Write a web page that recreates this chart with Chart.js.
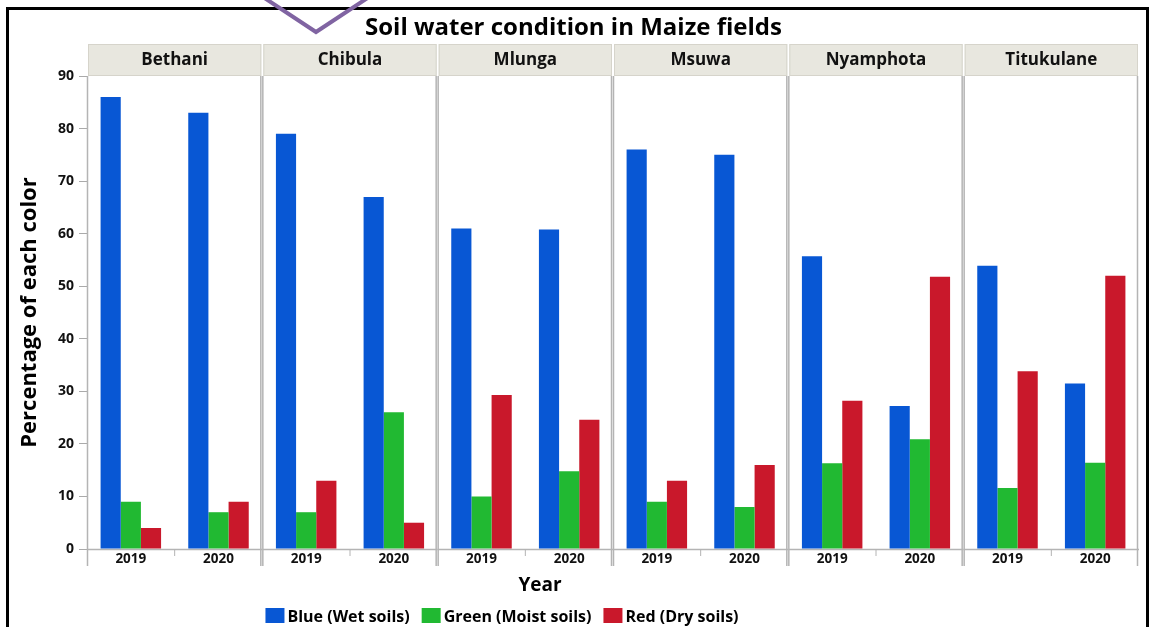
<!DOCTYPE html>
<html>
<head>
<meta charset="utf-8">
<script src="https://cdn.jsdelivr.net/npm/chart.js@4/dist/chart.umd.min.js"></script>
<style>
  html, body { margin: 0; padding: 0; background: #fff; }
  #wrap { position: relative; width: 1152px; height: 627px; }
</style>
</head>
<body>
<div id="wrap"><canvas id="chart" width="1152" height="627"></canvas></div>
<script>
// 数据
const sites = ['Bethani', 'Chibula', 'Mlunga', 'Msuwa', 'Nyamphota', 'Titukulane'];
const years = ['2019', '2020'];
const blueWet = [86, 83, 79, 67, 61, 60.8, 76, 75, 55.7, 27.2, 53.9, 31.5];
const greenMoist = [9, 7, 7, 26, 10, 14.8, 9, 8, 16.3, 20.9, 11.6, 16.4];
const redDry = [4, 9, 13, 5, 29.3, 24.6, 13, 16, 28.2, 51.8, 33.8, 52];
const yTicks = [0, 10, 20, 30, 40, 50, 60, 70, 80, 90];

const FONT = '"Open Sans", "Noto Sans", sans-serif';

// x轴标签：每个地点两年
const labels = [];
sites.forEach(() => years.forEach(y => labels.push(y)));

// 面板、标题、图例等装饰
const facetPlugin = {
    id: 'facets',
    beforeDatasetsDraw(chart) {
        const ctx = chart.ctx;
        const x = chart.scales.x;
        const area = chart.chartArea;
        const pw = (x.right - x.left) / sites.length;
        ctx.save();
        sites.forEach((name, i) => {
            const l = x.left + i * pw;
            const r = l + pw;
            // 标题栏
            ctx.fillStyle = '#e8e7df';
            ctx.fillRect(l + 1, 44, pw - 2, area.top - 44);
            ctx.strokeStyle = '#d6d4cb';
            ctx.lineWidth = 1;
            ctx.strokeRect(l + 1.5, 44.5, pw - 3, area.top - 45);
            ctx.fillStyle = '#111';
            ctx.font = 'bold 17px ' + FONT;
            ctx.textAlign = 'center';
            ctx.textBaseline = 'middle';
            ctx.fillText(name, l + pw / 2, 60);
            // 面板边框
            ctx.strokeStyle = '#b4b4b4';
            ctx.lineWidth = 1.5;
            ctx.beginPath();
            ctx.moveTo(l + 0.5, area.top);
            ctx.lineTo(l + 0.5, area.bottom + 17);
            ctx.moveTo(r - 1.5, area.top);
            ctx.lineTo(r - 1.5, area.bottom + 17);
            ctx.moveTo(l, area.bottom + 0.5);
            ctx.lineTo(r, area.bottom + 0.5);
            ctx.stroke();
            // 中间短刻度
            ctx.lineWidth = 1;
            ctx.beginPath();
            ctx.moveTo(l + pw / 2, area.bottom);
            ctx.lineTo(l + pw / 2, area.bottom + 7);
            ctx.stroke();
        });
        ctx.restore();
    },
    afterDraw(chart) {
        const ctx = chart.ctx;
        ctx.save();
        // 外框
        ctx.strokeStyle = '#000';
        ctx.lineWidth = 3;
        ctx.strokeRect(7.5, 8.5, 1140, 700);
        // 紫色箭头
        ctx.strokeStyle = '#8064a2';
        ctx.lineWidth = 4;
        ctx.lineJoin = 'miter';
        ctx.beginPath();
        ctx.moveTo(263, -3);
        ctx.lineTo(316, 32);
        ctx.lineTo(369, -3);
        ctx.stroke();
        // x轴标题
        ctx.fillStyle = '#000';
        ctx.font = 'bold 19px ' + FONT;
        ctx.textAlign = 'center';
        ctx.textBaseline = 'middle';
        ctx.fillText('Year', 540, 586);
        // 图例
        ctx.font = 'bold 16px ' + FONT;
        const items = chart.data.datasets;
        const boxW = 19, boxH = 15, gap = 3, sep = 12;
        let total = 0;
        items.forEach((d, i) => {
            total += boxW + gap + ctx.measureText(d.label).width + (i < items.length - 1 ? sep : 0);
        });
        let cx = 502 - total / 2;
        ctx.textAlign = 'left';
        items.forEach(d => {
            ctx.fillStyle = d.backgroundColor;
            ctx.fillRect(cx, 608, boxW, boxH);
            cx += boxW + gap;
            ctx.fillStyle = '#000';
            ctx.fillText(d.label, cx, 617);
            cx += ctx.measureText(d.label).width + sep;
        });
        ctx.restore();
    }
};

new Chart(document.getElementById('chart'), {
    type: 'bar',
    data: {
        labels: labels,
        datasets: [
            { label: 'Blue (Wet soils)', data: blueWet, backgroundColor: '#0857d4' },
            { label: 'Green (Moist soils)', data: greenMoist, backgroundColor: '#21b932' },
            { label: 'Red (Dry soils)', data: redDry, backgroundColor: '#c9182b' }
        ]
    },
    options: {
        responsive: false,
        animation: false,
        layout: { padding: { left: 8, right: 13, top: 0, bottom: 0 } },
        datasets: {
            bar: { categoryPercentage: 0.69, barPercentage: 1, borderWidth: 0 }
        },
        plugins: {
            legend: { display: false },
            tooltip: { enabled: false },
            title: {
                display: true,
                text: 'Soil water condition in Maize fields',
                color: '#000',
                font: { family: FONT, size: 24, weight: 'bold', lineHeight: 1.2 },
                padding: { top: 14, bottom: 33.2 }
            }
        },
        scales: {
            x: {
                grid: { display: false, drawTicks: false },
                border: { display: false },
                ticks: {
                    color: '#111',
                    padding: 2,
                    maxRotation: 0,
                    font: { family: FONT, size: 13.5, weight: 'bold' }
                },
                afterFit(scale) { scale.height = 78; }
            },
            y: {
                min: 0,
                max: 90,
                afterBuildTicks(scale) {
                    scale.ticks = yTicks.map(v => ({ value: v }));
                },
                grid: { drawOnChartArea: false, color: '#aaa', tickLength: 8 },
                border: { display: true, color: '#b4b4b4' },
                ticks: {
                    color: '#111',
                    padding: 5,
                    font: { family: FONT, size: 14, weight: 'bold' }
                },
                title: {
                    display: true,
                    text: 'Percentage of each color',
                    color: '#000',
                    padding: { top: 9, bottom: 0 },
                    font: { family: FONT, size: 22, weight: 'bold', lineHeight: 1.2 }
                },
                afterFit(scale) { scale.width = 79; }
            }
        }
    },
    plugins: [facetPlugin]
});
</script>
</body>
</html>
